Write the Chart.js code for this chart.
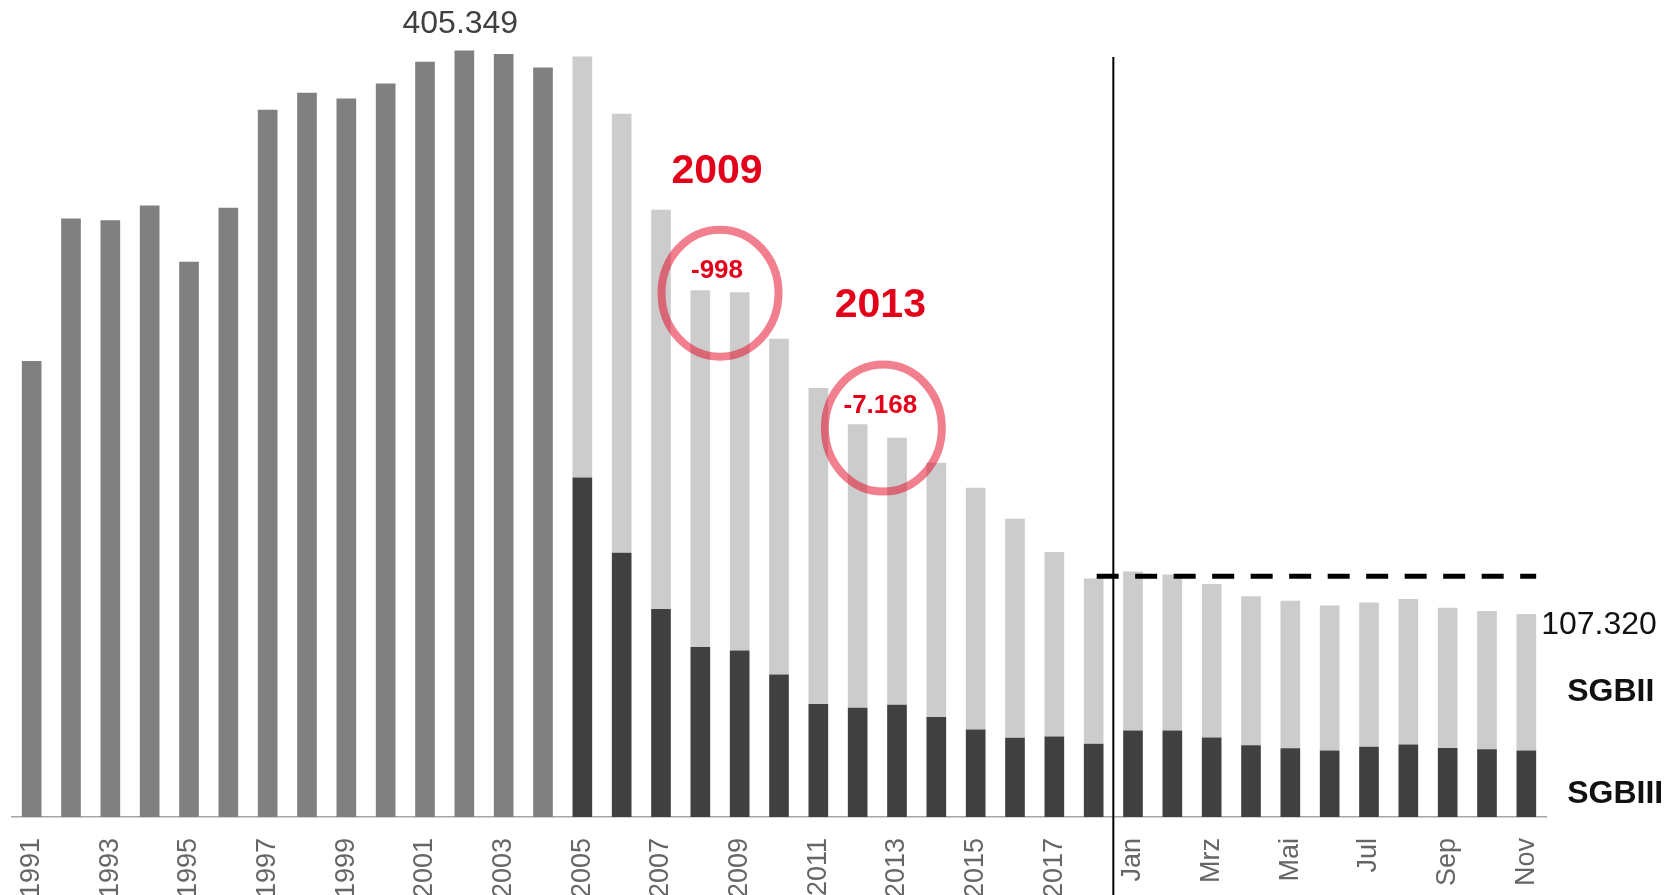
<!DOCTYPE html>
<html>
<head>
<meta charset="utf-8">
<script src="https://cdn.jsdelivr.net/npm/chart.js@4.4.0/dist/chart.umd.min.js"></script>
<style>
    html, body { margin: 0; padding: 0; background: #fff; }
    #wrap { width: 1680px; height: 895px; position: relative; }
</style>
</head>
<body>
<div id="wrap"><canvas id="chart"></canvas></div>
<script>
const labels = ["1991", "1992", "1993", "1994", "1995", "1996", "1997", "1998", "1999", "2000",
    "2001", "2002", "2003", "2004", "2005", "2006", "2007", "2008", "2009", "2010",
    "2011", "2012", "2013", "2014", "2015", "2016", "2017", "2018",
    "Jan", "Feb", "Mrz", "Apr", "Mai", "Jun", "Jul", "Aug", "Sep", "Okt", "Nov"];

// 1991-2004: nur Gesamtzahl
const totalValues = [241200, 316500, 315600, 323400, 293700, 322300, 374100, 383000, 380000, 387900,
    399500, 405349, 403600, 396400];

// ab 2005 getrennt
const sgb3Values = [179600, 139800, 110000, 89900, 88000, 75400, 59800, 57800, 59400, 52900,
    46300, 41900, 42600, 38800, 45700, 45700, 42000, 37900, 36300, 35200, 37200, 38300, 36500, 35800, 35200];
const sgb2Values = [222600, 232200, 211200, 188700, 189602, 177600, 167100, 149900, 141132, 134500,
    127900, 115900, 97600, 87400, 84200, 82600, 81200, 78800, 78100, 76600, 76200, 77000, 74200, 73200, 72120];

const markedYears = ["2009", "2013"];
const refLine = 127300;
const dividerTop = 402000;

const font = "'Liberation Sans', Arial, sans-serif";
const red = "#e3001b";

function fmt(v) {
    const s = String(Math.abs(Math.round(v))).replace(/\B(?=(\d{3})+(?!\d))/g, ".");
    return v < 0 ? "-" + s : s;
}

const split = totalValues.length;
const gap = labels.length - split;
const none = n => Array(n).fill(null);

// kleine Korrekturen fuer die Kreise
const circleShift = { "2009": [0, 2], "2013": [6, -3] };

const overlay = {
    id: "overlay",
    afterDatasetsDraw(chart) {
        const { ctx, scales: { x, y } } = chart;
        const tot = chart.getDatasetMeta(0).data;
        const low = chart.getDatasetMeta(1).data;
        const high = chart.getDatasetMeta(2).data;
        const top = i => i < split ? tot[i] : high[i];
        const valueAt = i => i < split ? totalValues[i] : sgb3Values[i - split] + sgb2Values[i - split];

        ctx.save();

        // Trennlinie Jahre / Monate
        const jan = labels.indexOf("Jan");
        const xd = (x.getPixelForValue(jan - 1) + x.getPixelForValue(jan)) / 2;
        ctx.strokeStyle = "#000";
        ctx.lineWidth = 2;
        ctx.beginPath();
        ctx.moveTo(xd, y.getPixelForValue(dividerTop));
        ctx.lineTo(xd, chart.height);
        ctx.stroke();

        // gestrichelte Referenzlinie
        const last = labels.length - 1;
        const yr = y.getPixelForValue(refLine);
        ctx.setLineDash([22, 16.5]);
        ctx.lineWidth = 5;
        ctx.beginPath();
        ctx.moveTo(top(jan - 1).x + 3, yr);
        ctx.lineTo(top(last).x + top(last).width / 2, yr);
        ctx.stroke();
        ctx.setLineDash([]);

        // Maximum
        const peak = totalValues.indexOf(Math.max(...totalValues));
        ctx.fillStyle = "#404040";
        ctx.font = "32px " + font;
        ctx.textAlign = "center";
        ctx.textBaseline = "alphabetic";
        ctx.fillText(fmt(totalValues[peak]), top(peak).x - 4, top(peak).y - 17.5);

        // letzter Wert
        const lb = top(last);
        ctx.fillStyle = "#111";
        ctx.font = "32px " + font;
        ctx.textAlign = "left";
        ctx.fillText(fmt(valueAt(last)), lb.x + lb.width / 2 + 5, lb.y + 20);

        // Serienbeschriftung
        ctx.font = "bold 32px " + font;
        const lx = lb.x + lb.width / 2 + 31;
        ctx.fillText("SGBII", lx, (high[last].y + high[last].base) / 2 + 19);
        ctx.fillText("SGBIII", lx, (low[last].y + low[last].base) / 2 + 19);

        // Markierungen
        markedYears.forEach(yrLabel => {
            const i = labels.indexOf(yrLabel);
            const a = top(i - 1), b = top(i);
            const cx = (a.x + b.x) / 2 + circleShift[yrLabel][0];
            const cy = (a.y + b.y) / 2 + circleShift[yrLabel][1];
            ctx.strokeStyle = "rgba(227, 0, 27, 0.5)";
            ctx.lineWidth = 8;
            ctx.beginPath();
            ctx.ellipse(cx, cy, 58.5, 63.5, 0, 0, Math.PI * 2);
            ctx.stroke();

            ctx.fillStyle = red;
            ctx.textAlign = "center";
            ctx.textBaseline = "middle";
            ctx.font = "bold 41px " + font;
            ctx.fillText(yrLabel, cx - 3, cy - 122);
            ctx.font = "bold 26px " + font;
            ctx.fillText(fmt(valueAt(i) - valueAt(i - 1)), cx - 3, cy - 22);
        });

        ctx.restore();
    }
};

const chart = new Chart(document.getElementById("chart"), {
    type: "bar",
    data: {
        labels: labels,
        datasets: [
            { label: "Arbeitslose", data: totalValues.concat(none(gap)), backgroundColor: "#808080" },
            { label: "SGBIII", data: none(split).concat(sgb3Values), backgroundColor: "#404040" },
            { label: "SGBII", data: none(split).concat(sgb2Values), backgroundColor: "#cccccc" }
        ]
    },
    options: {
        responsive: true,
        maintainAspectRatio: false,
        animation: false,
        layout: { padding: { left: 12, right: 134, top: 4, bottom: 0 } },
        datasets: { bar: { categoryPercentage: 1, barPercentage: 0.5, borderWidth: 0 } },
        plugins: { legend: { display: false }, tooltip: { enabled: false } },
        scales: {
            x: {
                stacked: true,
                grid: { display: false, drawTicks: false },
                border: { display: true, color: "#a6a6a6", width: 1.5 },
                ticks: {
                    autoSkip: false,
                    minRotation: 90,
                    maxRotation: 90,
                    padding: 21,
                    color: "#666666",
                    font: { family: font, size: 27 },
                    callback: function (v, i) { return i % 2 === 0 ? this.getLabelForValue(v) : ""; }
                },
                afterFit: s => { s.height = 78; }
            },
            y: { stacked: true, display: false, min: 0, max: 430000 }
        }
    },
    plugins: [overlay]
});
</script>
</body>
</html>
